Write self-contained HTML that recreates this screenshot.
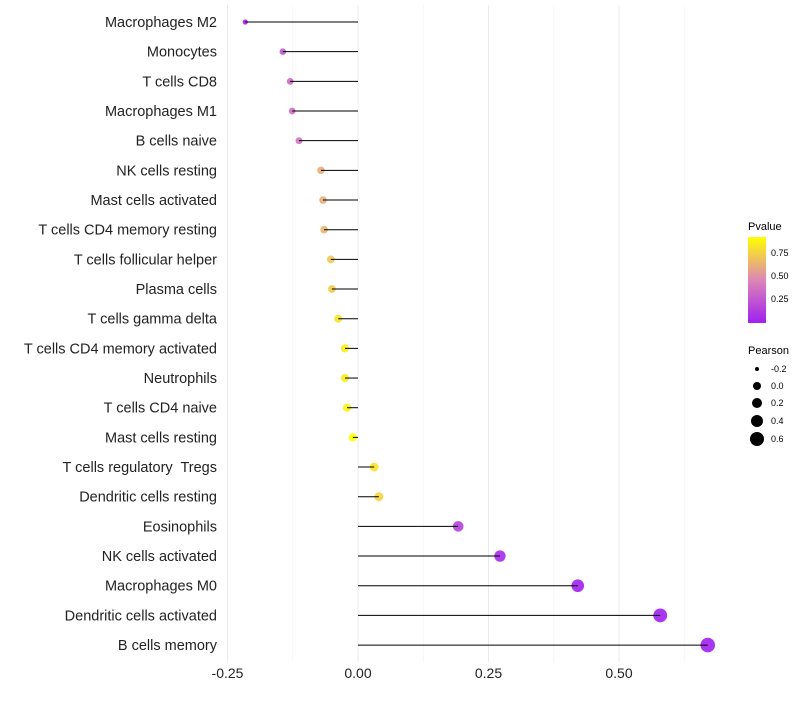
<!DOCTYPE html>
<html><head><meta charset="utf-8"><style>
body{margin:0;background:#fff;font-family:"Liberation Sans",sans-serif}
text{white-space:pre}
</style></head><body>
<svg id="chart" width="800" height="700" xmlns="http://www.w3.org/2000/svg" xml:space="preserve">
<defs><linearGradient id="pg" x1="0" y1="1" x2="0" y2="0">
<stop offset="0" stop-color="#a020f0"/><stop offset="0.5" stop-color="#dd86b6"/><stop offset="1" stop-color="#ffff00"/></linearGradient></defs>
<g id="grid"></g><g id="marks"></g><g id="labels"></g>
<g>
<text x="748" y="230" font-size="11">Pvalue</text>
<rect x="748" y="237" width="18" height="86" fill="url(#pg)"/>
<g font-size="9"><text x="771" y="256">0.75</text><text x="771" y="279">0.50</text><text x="771" y="302">0.25</text></g>
</g>
<g font-size="9">
<text x="748" y="354" font-size="11">Pearson</text>
<circle cx="757" cy="369" r="2"/><text x="771" y="372">-0.2</text>
<circle cx="757" cy="386" r="4"/><text x="771" y="389">0.0</text>
<circle cx="757" cy="403" r="5"/><text x="771" y="406">0.2</text>
<circle cx="757" cy="421" r="6"/><text x="771" y="424">0.4</text>
<circle cx="757" cy="439" r="7"/><text x="771" y="442">0.6</text>
</g>
</svg>
<script>
const categories=["Macrophages M2","Monocytes","T cells CD8","Macrophages M1","B cells naive","NK cells resting","Mast cells activated","T cells CD4 memory resting","T cells follicular helper","Plasma cells","T cells gamma delta","T cells CD4 memory activated","Neutrophils","T cells CD4 naive","Mast cells resting","T cells regulatory  Tregs","Dendritic cells resting","Eosinophils","NK cells activated","Macrophages M0","Dendritic cells activated","B cells memory"];
const pearson=[-0.216,-0.144,-0.130,-0.126,-0.113,-0.071,-0.067,-0.065,-0.052,-0.050,-0.038,-0.025,-0.025,-0.021,-0.010,0.031,0.040,0.192,0.272,0.421,0.579,0.670];
const pvalue=[0.02,0.25,0.33,0.35,0.38,0.62,0.62,0.64,0.72,0.73,0.82,0.86,0.86,0.88,0.97,0.82,0.77,0.15,0.05,0.01,0.003,0.001];
const xTicks=[-0.25,0,0.25,0.5];
const xTickLabels=["-0.25","0.00","0.25","0.50"];
const NS="http://www.w3.org/2000/svg";
const x=v=>358+v*522;
const y=i=>22+i*29.67;
function lerp(a,b,t){return a.map((c,k)=>Math.round(c+(b[k]-c)*t));}
function col(p){const t=Math.max(0,Math.min(1,p/0.93));const P=[160,32,240],M=[221,134,182],Y=[255,255,0];
const c=t<0.5?lerp(P,M,t*2):lerp(M,Y,(t-0.5)*2);return `rgb(${c})`;}
const rad=v=>Math.sqrt(Math.max(1,18+52*v));
function mk(tag,attrs,parent){const e=document.createElementNS(NS,tag);for(const k in attrs)e.setAttribute(k,attrs[k]);parent.appendChild(e);return e;}
const grid=document.getElementById('grid'),marks=document.getElementById('marks'),labels=document.getElementById('labels');
[-0.125,0.125,0.375,0.625].forEach(v=>{const l=mk('line',{x1:x(v),x2:x(v),y1:5,y2:662,stroke:'#f4f4f4','stroke-width':0.8},grid);

});
xTicks.forEach((v,i)=>{const l=mk('line',{x1:x(v),x2:x(v),y1:5,y2:662,stroke:'#ebebeb','stroke-width':1},grid);


const t=mk('text',{x:x(v),y:678,'text-anchor':'middle','font-size':14,fill:'#222'},labels);t.textContent=xTickLabels[i];

});
categories.forEach((c,i)=>{const t=mk('text',{x:217,y:y(i)+5,'text-anchor':'end','font-size':14.5,fill:'#222'},labels);t.textContent=c;


const p=mk('circle',{cx:x(pearson[i]),cy:y(i),r:rad(pearson[i]),fill:col(pvalue[i]),'fill-opacity':0.9},marks);


const l=mk('line',{x1:x(0),x2:x(pearson[i]),y1:y(i),y2:y(i),stroke:'#000','stroke-width':1},marks);

});
</script>
</body></html>
